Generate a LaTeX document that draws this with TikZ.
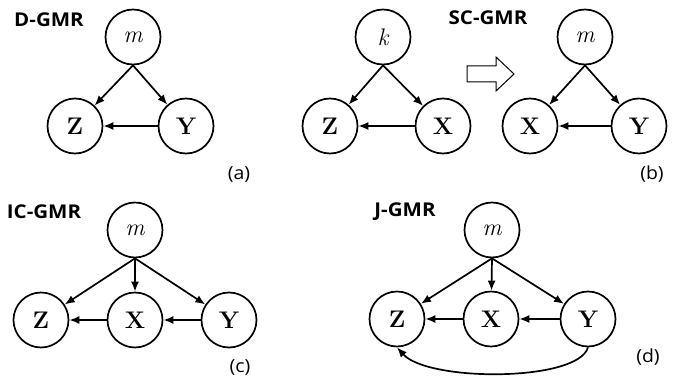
\documentclass[tikz,border=0pt]{standalone}
\usepackage{fontspec}
\newfontfamily\labfont[FakeStretch=1.08]{Open Sans}
\usetikzlibrary{arrows.meta}
\begin{document}
\begin{tikzpicture}[x=1pt,y=-1pt,
  var/.style={circle,draw,line width=1.7pt,minimum size=55pt,inner sep=0pt,font=\fontsize{24}{28}\selectfont},
  edge/.style={line width=1.7pt,-{Latex[length=10pt,width=8pt]}},
  title/.style={font=\labfont\bfseries\fontsize{19}{23}\selectfont,inner sep=0pt},
  sub/.style={font=\labfont\fontsize{18}{22}\selectfont,inner sep=0pt}]
\useasboundingbox (0,0) rectangle (674,377);
% (a)
\node[title] (ta) at (49,20) {D-GMR};
\node[var] (am) at (133,37) {\itshape m};
\node[var] (az) at (75,126) {\bfseries Z};
\node[var] (ay) at (186,126) {\bfseries Y};
\draw[edge] (am.south) -- (az);
\draw[edge] (am.south) -- (ay);
\draw[edge] (ay) -- (az);
\node[sub] (la) at (239,174) {(a)};
% (b)
\node[var] (bk) at (383,37) {\itshape k};
\node[var] (bz) at (330,126) {\bfseries Z};
\node[var] (bx) at (443,126) {\bfseries X};
\draw[edge] (bk.south) -- (bz);
\draw[edge] (bk.south) -- (bx);
\draw[edge] (bx) -- (bz);
\draw[line width=1pt,line join=miter] (467,66) -- (496,66) -- (496,57) -- (514,74) -- (496,91) -- (496,82) -- (467,82) -- cycle;
\node[title] (tb) at (488,18) {SC-GMR};
\node[var] (bm) at (585,37) {\itshape m};
\node[var] (bx2) at (530,126) {\bfseries X};
\node[var] (by) at (639,126) {\bfseries Y};
\draw[edge] (bm.south) -- (bx2);
\draw[edge] (bm.south) -- (by);
\draw[edge] (by) -- (bx2);
\node[sub] (lb) at (652,174) {(b)};
% (c)
\node[title] (tc) at (44,212) {IC-GMR};
\node[var] (cm) at (135,230) {\itshape m};
\node[var] (cz) at (41,320) {\bfseries Z};
\node[var] (cx) at (135,320) {\bfseries X};
\node[var] (cy) at (229,320) {\bfseries Y};
\draw[edge] (cm.south) -- (cz);
\draw[edge] (cm.south) -- (cx);
\draw[edge] (cm.south) -- (cy);
\draw[edge] (cx) -- (cz);
\draw[edge] (cy) -- (cx);
\node[sub] (lc) at (240,367) {(c)};
% (d)
\node[title] (td) at (405,212) {J-GMR};
\node[var] (dm) at (492,230) {\itshape m};
\node[var] (dz) at (397,319) {\bfseries Z};
\node[var] (dx) at (491,319) {\bfseries X};
\node[var] (dy) at (588,319) {\bfseries Y};
\draw[edge] (dm.south) -- (dz);
\draw[edge] (dm.south) -- (dx);
\draw[edge] (dm.south) -- (dy);
\draw[edge] (dx) -- (dz);
\draw[edge] (dy) -- (dx);
\coordinate (c1) at (578,382);
\coordinate (c2) at (428,382);
\draw[edge] (dy.south) .. controls (c1) and (c2) .. (dz.south);
\node[sub] (ld) at (648,357) {(d)};
\end{tikzpicture}
\end{document}
